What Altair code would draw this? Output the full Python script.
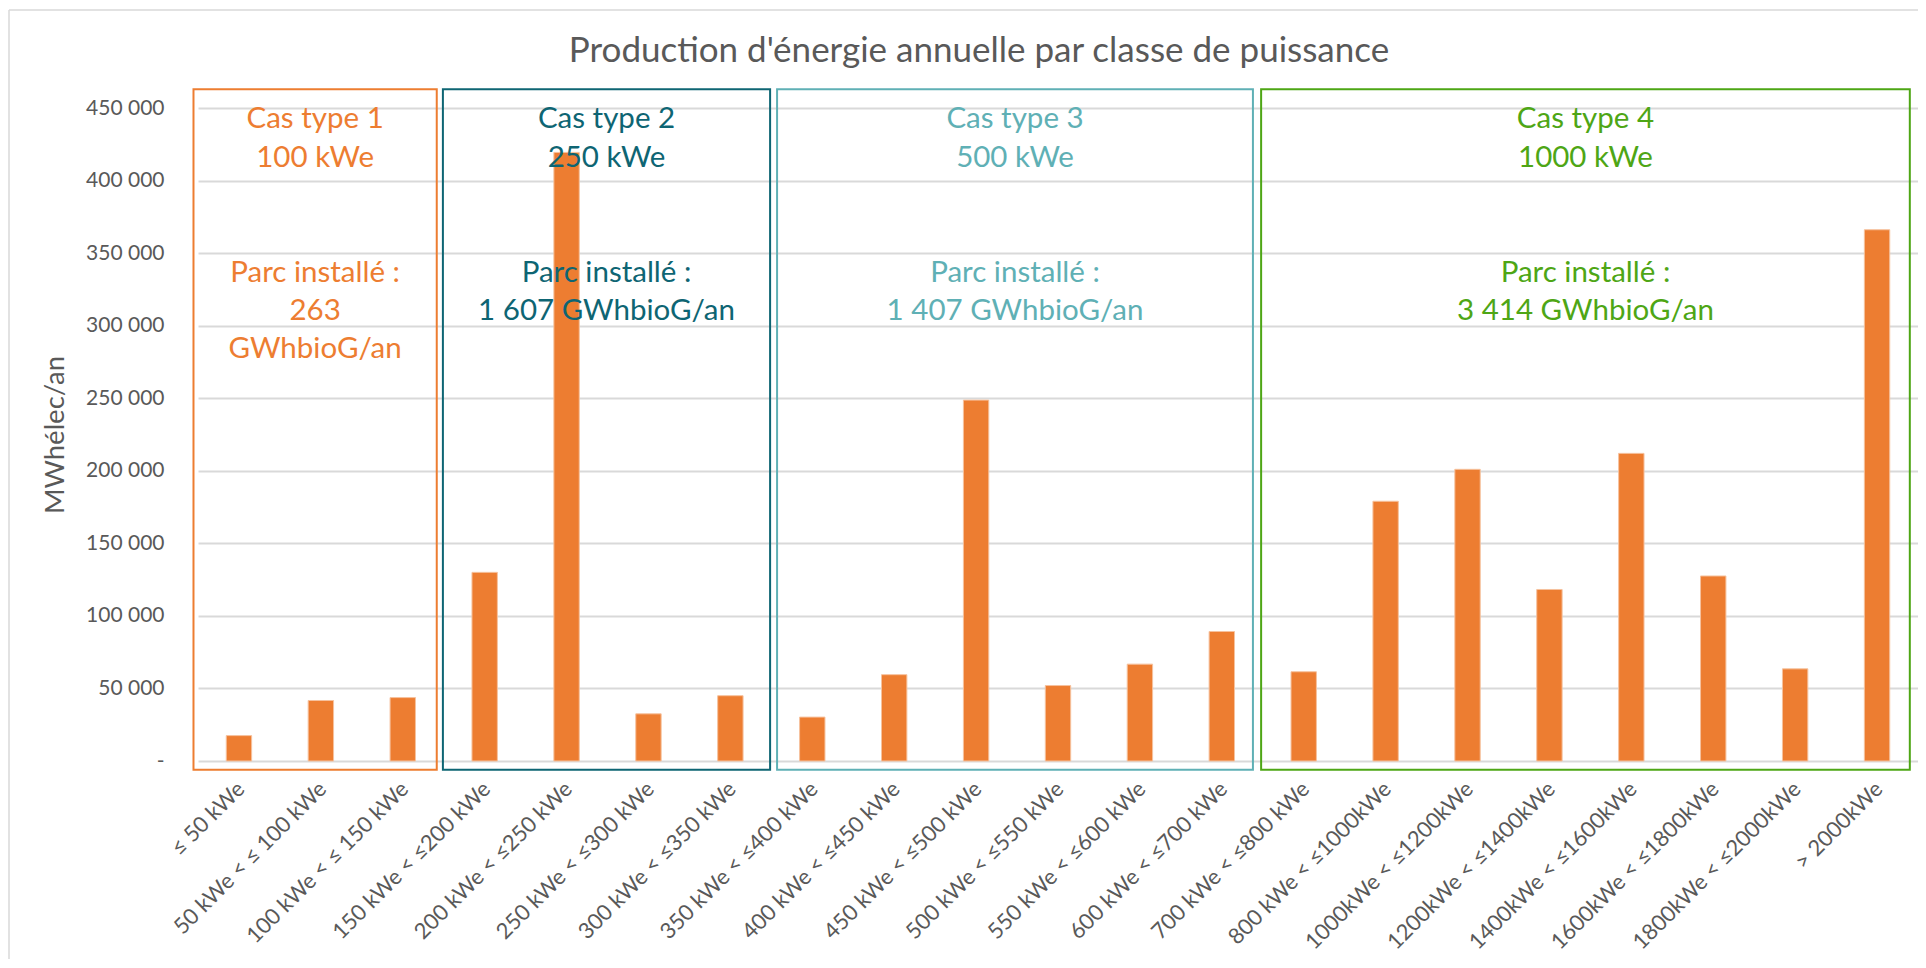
import altair as alt
import pandas as pd

TITLE = "Production d'énergie annuelle par classe de puissance"
Y_TITLE = "MWhélec/an"

categories = [
    "≤ 50 kWe", "50 kWe < ≤ 100 kWe", "100 kWe < ≤ 150 kWe", "150 kWe < ≤200 kWe",
    "200 kWe < ≤250 kWe", "250 kWe < ≤300 kWe", "300 kWe < ≤350 kWe", "350 kWe < ≤400 kWe",
    "400 kWe < ≤450 kWe", "450 kWe < ≤500 kWe", "500 kWe < ≤550 kWe", "550 kWe < ≤600 kWe",
    "600 kWe < ≤700 kWe", "700 kWe < ≤800 kWe", "800 kWe < ≤1000kWe", "1000kWe < ≤1200kWe",
    "1200kWe < ≤1400kWe", "1400kWe < ≤1600kWe", "1600kWe < ≤1800kWe", "1800kWe < ≤2000kWe",
    "> 2000kWe",
]
production = [
    17500, 41700, 43700, 130000, 419400, 32500, 45000, 30250, 59500, 248700, 52000,
    66750, 89250, 61500, 179000, 201000, 118200, 212000, 127500, 63500, 366100,
]

case_names = ["Cas type 1", "Cas type 2", "Cas type 3", "Cas type 4"]
case_power = ["100 kWe", "250 kWe", "500 kWe", "1000 kWe"]
case_parc = [
    "Parc installé :\n263\nGWhbioG/an",
    "Parc installé :\n1 607 GWhbioG/an",
    "Parc installé :\n1 407 GWhbioG/an",
    "Parc installé :\n3 414 GWhbioG/an",
]
# box extents, in category-index units
case_start = [-0.555, 2.49, 6.57, 12.48]
case_end = [2.415, 6.485, 12.38, 20.40]
case_colors = ["#ED7D31", "#0E6573", "#5FB0B5", "#4EA615"]

Y_TICKS = list(range(0, 450001, 50000))
BOX_TOP, BOX_BOTTOM = 463000, -6000
HEAD_Y, PARC_Y = 436200, 329800

FONT = "Lato"
GREY = "#595959"

bars_df = pd.DataFrame({"classe": categories, "production": production})
cases_df = pd.DataFrame({
    "name": case_names,
    "head": [n + "\n" + p for n, p in zip(case_names, case_power)],
    "parc": case_parc,
    "x0": case_start,
    "x1": case_end,
    "color": case_colors,
    "top": [BOX_TOP] * 4,
    "bottom": [BOX_BOTTOM] * 4,
    "head_y": [HEAD_Y] * 4,
    "parc_y": [PARC_Y] * 4,
})

qscale = alt.Scale(domain=[-0.5, len(categories) - 0.5], nice=False, zero=False)


def yscale():
    return alt.Scale(domain=[0, 450000], nice=False, zero=True)


bars = alt.Chart(bars_df).mark_bar(color="#ED7D31", stroke="#F6C29E", strokeWidth=1).encode(
    x=alt.X("classe:N", sort=categories,
            scale=alt.Scale(paddingInner=0.69, paddingOuter=0.345),
            axis=alt.Axis(title=None, labelAngle=-45, labelAlign="right", labelBaseline="middle",
                          labelPadding=24, labelOffset=2, labelFontSize=22, labelColor=GREY,
                          labelFont=FONT, labelLimit=0, domain=False, ticks=False, grid=False,
                          labelOverlap=False)),
    y=alt.Y("production:Q", scale=yscale(),
            axis=alt.Axis(title=Y_TITLE, values=Y_TICKS,
                          labelExpr="datum.value == 0 ? '-\u00a0\u00a0' : replace(format(datum.value, ','), ',', ' ')",
                          labelFont=FONT, labelFontSize=21, labelColor=GREY, labelPadding=34,
                          domain=False, ticks=False, grid=True, gridColor="#D9D9D9", gridWidth=2,
                          titleFont=FONT, titleFontSize=27.5, titleFontWeight="normal", titleColor=GREY,
                          titleAngle=270, titleBaseline="middle", titleX=-143)),
)

boxes = alt.Chart(cases_df).mark_rect(filled=False, strokeWidth=2).encode(
    x=alt.X("x0:Q", scale=qscale, axis=None),
    x2="x1:Q",
    y=alt.Y("top:Q", scale=yscale(), axis=None),
    y2="bottom:Q",
    stroke=alt.Stroke("color:N", scale=None),
)

heads = alt.Chart(cases_df).transform_calculate(
    mid="(datum.x0 + datum.x1) / 2"
).mark_text(font=FONT, fontSize=29.5, lineBreak="\n", lineHeight=39, baseline="alphabetic",
            align="center").encode(
    x=alt.X("mid:Q", scale=qscale, axis=None),
    y=alt.Y("head_y:Q", scale=yscale(), axis=None),
    text="head:N",
    color=alt.Color("color:N", scale=None),
)

parc = alt.Chart(cases_df).transform_calculate(
    mid="(datum.x0 + datum.x1) / 2"
).mark_text(font=FONT, fontSize=29.5, lineBreak="\n", lineHeight=38, baseline="alphabetic",
            align="center").encode(
    x=alt.X("mid:Q", scale=qscale, axis=None),
    y=alt.Y("parc_y:Q", scale=yscale(), axis=None),
    text="parc:N",
    color=alt.Color("color:N", scale=None),
)

one = pd.DataFrame({"k": [0]})
frame_top = alt.Chart(one).mark_rule(color="#D9D9D9", strokeWidth=1.5).encode(
    x=alt.value(-189), x2=alt.value(1720), y=alt.value(-98))
frame_left = alt.Chart(one).mark_rule(color="#D9D9D9", strokeWidth=1.5).encode(
    x=alt.value(-189), y=alt.value(-98), y2=alt.value(855))

chart = alt.layer(frame_top, frame_left, bars, boxes, heads, parc).resolve_scale(
    x="independent", y="independent"
).properties(
    width=1720, height=653,
    padding={"left": 190, "top": 100, "right": 0, "bottom": 198},
    autosize=alt.AutoSizeParams(type="none"),
    title=alt.TitleParams(TITLE, font=FONT, fontSize=35, fontWeight="normal", color=GREY,
                          anchor="middle", dx=-79, dy=36, baseline="alphabetic", offset=-52),
).configure_view(stroke=None)

chart.save("out.html", embed_options={"renderer": "svg", "actions": False})
